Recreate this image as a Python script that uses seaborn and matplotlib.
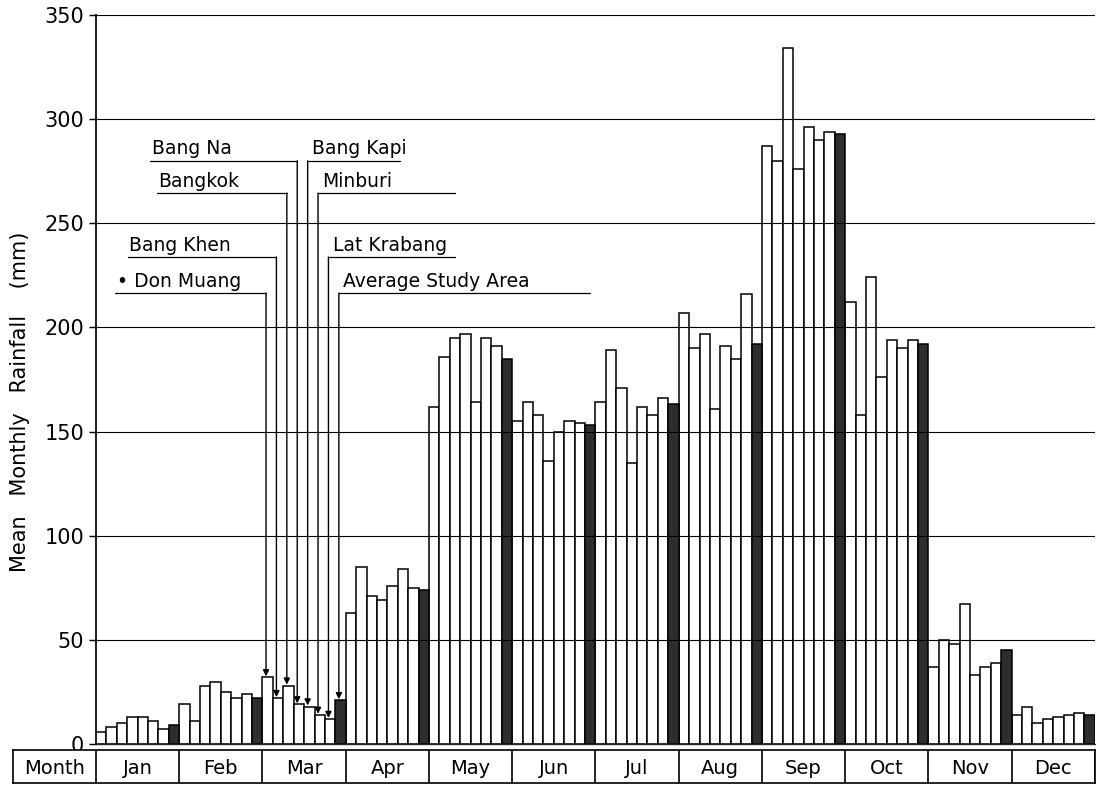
import pandas as pd
import numpy as np
import seaborn as sns
import matplotlib.pyplot as plt

months = ['Jan', 'Feb', 'Mar', 'Apr', 'May', 'Jun', 'Jul', 'Aug', 'Sep', 'Oct', 'Nov', 'Dec']
stations = ['Don Muang', 'Bang Khen', 'Bangkok', 'Bang Na', 'Bang Kapi',
            'Minburi', 'Lat Krabang', 'Average Study Area']

# mean monthly rainfall (mm), one list per station, Jan..Dec
don_muang   = [6, 19, 32, 63, 162, 155, 164, 207, 287, 212, 37, 14]
bang_khen   = [8, 11, 22, 85, 186, 164, 189, 190, 280, 158, 50, 18]
bangkok     = [10, 28, 28, 71, 195, 158, 171, 197, 334, 224, 48, 10]
bang_na     = [13, 30, 19, 69, 197, 136, 135, 161, 276, 176, 67, 12]
bang_kapi   = [13, 25, 18, 76, 164, 150, 162, 191, 296, 194, 33, 13]
minburi     = [11, 22, 14, 84, 195, 155, 158, 185, 290, 190, 37, 14]
lat_krabang = [7, 24, 12, 75, 191, 154, 166, 216, 294, 194, 39, 15]
average     = [9, 22, 21, 74, 185, 153, 163, 192, 293, 192, 45, 14]

series = [don_muang, bang_khen, bangkok, bang_na, bang_kapi, minburi, lat_krabang, average]
rows = []
for name, vals in zip(stations, series):
    for m, v in zip(months, vals):
        rows.append({'Month': m, 'Station': name, 'Rainfall': v})
df = pd.DataFrame(rows)

sns.set_style('ticks')
plt.rcParams['font.family'] = ['DejaVu Sans']
plt.rcParams['font.size'] = 13
plt.rcParams['text.color'] = 'black'
plt.rcParams['axes.labelcolor'] = 'black'
plt.rcParams['ytick.color'] = 'black'

fig = plt.figure(figsize=(10.96, 7.86), dpi=100)
ax = fig.add_axes([96 / 1096, 1 - 744 / 786, 1 - 96 / 1096 - 0.001, (744 - 15) / 786])

palette = ['white'] * 7 + ['#2e2e2e']
sns.barplot(data=df, x='Month', y='Rainfall', hue='Station', order=months,
            hue_order=stations, palette=palette, saturation=1, width=1,
            edgecolor='black', linewidth=1.1, legend=False, ax=ax)

ax.set_xlim(-0.5, 11.5)
ax.set_ylim(0, 350)
ax.set_yticks(np.arange(0, 351, 50))
ax.set_xticks([])
ax.set_xlabel('')
ax.set_ylabel('Mean   Monthly   Rainfall    (mm)', fontsize=15)
ax.yaxis.set_label_coords(-0.066, 0.47)
ax.tick_params(axis='y', labelsize=15, length=5, width=1, color='black')
ax.yaxis.grid(True, color='black', linewidth=0.8)
ax.set_axisbelow(False)
for s in ['top', 'right']:
    ax.spines[s].set_visible(False)
ax.spines['left'].set_linewidth(1.5)
ax.spines['bottom'].set_linewidth(1.0)

# station labels with leader lines to the March bars
mar = months.index('Mar')
labels = [
    # station, underline y, far x of underline, text on left side?
    ('Don Muang', 216.5, -0.27, True),
    ('Bang Khen', 233.8, -0.12, True),
    ('Bangkok', 264.5, 0.23, True),
    ('Bang Na', 280.0, 0.15, True),
    ('Bang Kapi', 280.0, 3.15, False),
    ('Minburi', 264.5, 3.81, False),
    ('Lat Krabang', 233.8, 3.81, False),
    ('Average Study Area', 216.5, 5.43, False),
]
for name, yu, xfar, left in labels:
    i = stations.index(name)
    bar = ax.containers[i][mar]
    xc = bar.get_x() + bar.get_width() / 2 - 0.02
    top = bar.get_height()
    ax.annotate('', xy=(xc, top + 0.5), xytext=(xc, yu),
                arrowprops=dict(arrowstyle='-|>', color='black', lw=1,
                                mutation_scale=9, shrinkA=0, shrinkB=0))
    ax.plot([min(xc, xfar), max(xc, xfar)], [yu, yu], color='black', lw=0.9)
    txt = ('• ' + name) if name == 'Don Muang' else name
    if left:
        ax.text(xfar + 0.02, yu + 1.2, txt, ha='left', va='bottom', fontsize=13.5)
    else:
        ax.text(xc + 0.05, yu + 1.2, txt, ha='left', va='bottom', fontsize=13.5)

# month row below the chart
ax_m = fig.add_axes([13 / 1096, 3 / 786, 1 - 13 / 1096 - 0.001, 33 / 786])
ax_m.set_xlim(-0.5 - 83 / 83.33, 11.5)
ax_m.set_ylim(0, 1)
ax_m.set_xticks([])
ax_m.set_yticks([])
for s in ax_m.spines.values():
    s.set_color('black')
    s.set_linewidth(1.2)
ax_m.vlines(np.arange(-0.5, 12), 0, 1, color='black', lw=1.2)
ax_m.text(-1.0, 0.45, 'Month', ha='center', va='center', fontsize=14)
for k, m in enumerate(months):
    ax_m.text(k, 0.45, m, ha='center', va='center', fontsize=14)

fig.savefig('out.png', dpi=100)
